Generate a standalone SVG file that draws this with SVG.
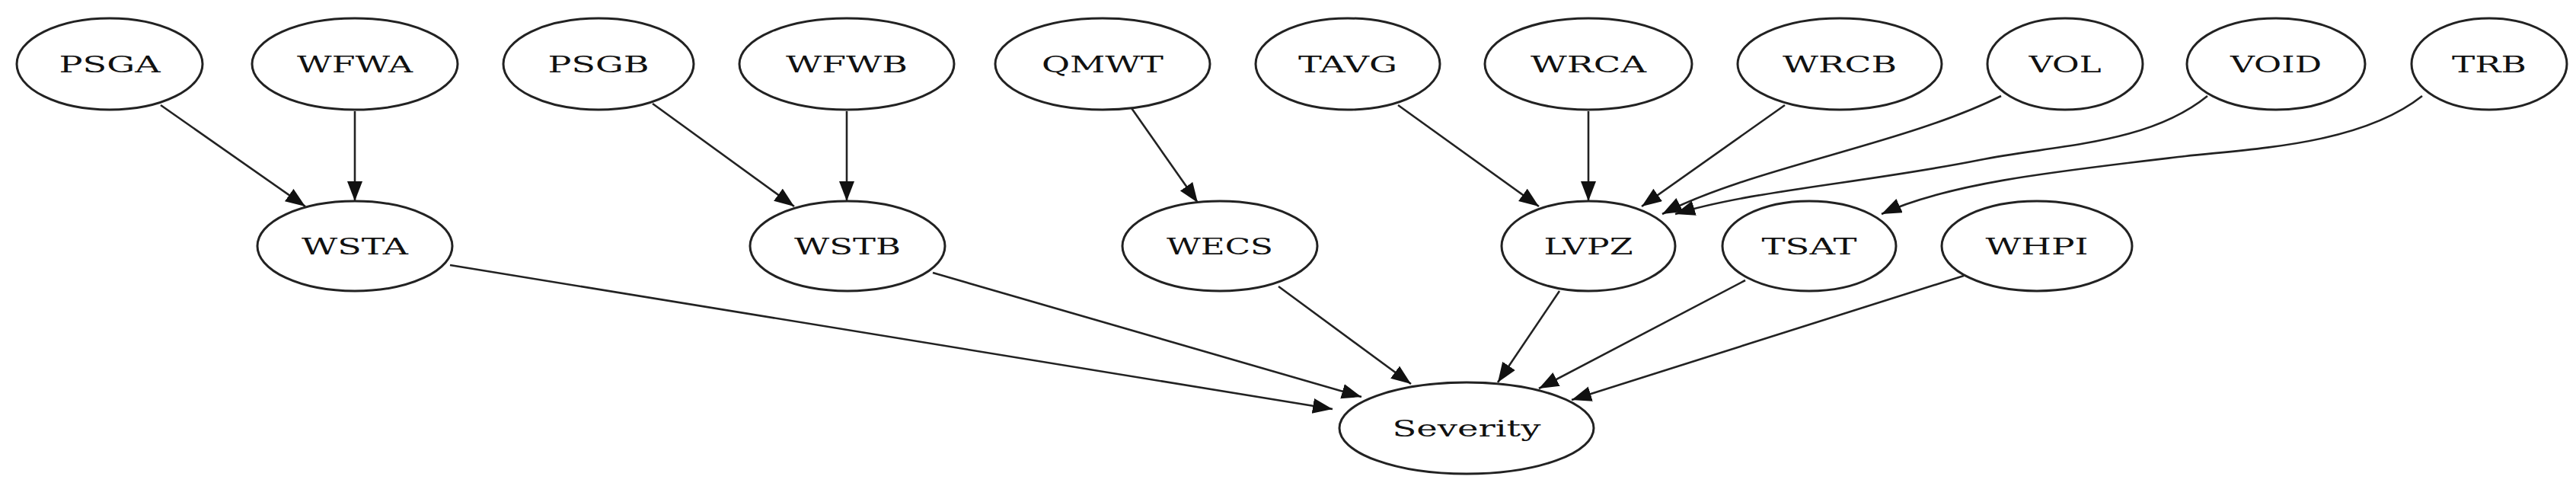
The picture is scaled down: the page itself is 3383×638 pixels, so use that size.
<svg xmlns="http://www.w3.org/2000/svg" width="3383" height="638" viewBox="0 0 3383 638">
<style>
ellipse{fill:#fff;stroke:#222;stroke-width:3}
text{font-family:"DejaVu Serif","Liberation Serif",serif;font-size:30px;fill:#111;text-anchor:middle;dominant-baseline:central}
.e path{fill:none;stroke:#222;stroke-width:2.6}
</style>
<defs><marker id="a" markerUnits="userSpaceOnUse" markerWidth="30" markerHeight="24" refX="26" refY="10" orient="auto"><path d="M0,0 L26,10 L0,20 z" fill="#111"/></marker></defs>
<g class="e">
<path d="M211,138 L401,271" marker-end="url(#a)"/>
<path d="M466,146 L466,264" marker-end="url(#a)"/>
<path d="M857,136 L1043,271" marker-end="url(#a)"/>
<path d="M1112,146 L1112,264" marker-end="url(#a)"/>
<path d="M1486,142 L1573,266" marker-end="url(#a)"/>
<path d="M1836,138 L2021,271" marker-end="url(#a)"/>
<path d="M2086,146 L2086,264" marker-end="url(#a)"/>
<path d="M2344,138 L2156,271" marker-end="url(#a)"/>
<path d="M2628,126 C2500,190 2300,220 2183,281" marker-end="url(#a)"/>
<path d="M2899,126 C2820,190 2700,190 2600,210 C2450,240 2300,250 2200,281" marker-end="url(#a)"/>
<path d="M3181,126 C3100,190 2960,195 2870,205 C2700,225 2560,240 2471,281" marker-end="url(#a)"/>
<path d="M591,348 L1750,537" marker-end="url(#a)"/>
<path d="M1225,358 L1788,521" marker-end="url(#a)"/>
<path d="M1679,376 L1853,504" marker-end="url(#a)"/>
<path d="M2048,382 L1967,502" marker-end="url(#a)"/>
<path d="M2292,368 L2021,510" marker-end="url(#a)"/>
<path d="M2579,362 L2064,525" marker-end="url(#a)"/>
</g>
<g id="PSGA"><ellipse cx="144" cy="84" rx="122" ry="60"/><text x="144" y="84" textLength="133" lengthAdjust="spacingAndGlyphs">PSGA</text></g>
<g id="WFWA"><ellipse cx="466" cy="84" rx="135" ry="60"/><text x="466" y="84" textLength="152" lengthAdjust="spacingAndGlyphs">WFWA</text></g>
<g id="PSGB"><ellipse cx="786" cy="84" rx="125" ry="60"/><text x="786" y="84" textLength="133" lengthAdjust="spacingAndGlyphs">PSGB</text></g>
<g id="WFWB"><ellipse cx="1112" cy="84" rx="141" ry="60"/><text x="1112" y="84" textLength="160" lengthAdjust="spacingAndGlyphs">WFWB</text></g>
<g id="QMWT"><ellipse cx="1448" cy="84" rx="141" ry="60"/><text x="1448" y="84" textLength="160" lengthAdjust="spacingAndGlyphs">QMWT</text></g>
<g id="TAVG"><ellipse cx="1770" cy="84" rx="121" ry="60"/><text x="1770" y="84" textLength="130" lengthAdjust="spacingAndGlyphs">TAVG</text></g>
<g id="WRCA"><ellipse cx="2086" cy="84" rx="136" ry="60"/><text x="2086" y="84" textLength="152" lengthAdjust="spacingAndGlyphs">WRCA</text></g>
<g id="WRCB"><ellipse cx="2416" cy="84" rx="134" ry="60"/><text x="2416" y="84" textLength="150" lengthAdjust="spacingAndGlyphs">WRCB</text></g>
<g id="VOL"><ellipse cx="2712" cy="84" rx="102" ry="60"/><text x="2712" y="84" textLength="95" lengthAdjust="spacingAndGlyphs">VOL</text></g>
<g id="VOID"><ellipse cx="2989" cy="84" rx="117" ry="60"/><text x="2989" y="84" textLength="120" lengthAdjust="spacingAndGlyphs">VOID</text></g>
<g id="TRB"><ellipse cx="3269" cy="84" rx="102" ry="60"/><text x="3269" y="84" textLength="98" lengthAdjust="spacingAndGlyphs">TRB</text></g>
<g id="WSTA"><ellipse cx="466" cy="323" rx="128" ry="59"/><text x="466" y="323" textLength="140" lengthAdjust="spacingAndGlyphs">WSTA</text></g>
<g id="WSTB"><ellipse cx="1113" cy="323" rx="128" ry="59"/><text x="1113" y="323" textLength="140" lengthAdjust="spacingAndGlyphs">WSTB</text></g>
<g id="WECS"><ellipse cx="1602" cy="323" rx="128" ry="59"/><text x="1602" y="323" textLength="140" lengthAdjust="spacingAndGlyphs">WECS</text></g>
<g id="LVPZ"><ellipse cx="2086" cy="323" rx="114" ry="59"/><text x="2086" y="323" textLength="117" lengthAdjust="spacingAndGlyphs">LVPZ</text></g>
<g id="TSAT"><ellipse cx="2376" cy="323" rx="114" ry="59"/><text x="2376" y="323" textLength="125" lengthAdjust="spacingAndGlyphs">TSAT</text></g>
<g id="WHPI"><ellipse cx="2675" cy="323" rx="125" ry="59"/><text x="2675" y="323" textLength="135" lengthAdjust="spacingAndGlyphs">WHPI</text></g>
<g id="Severity"><ellipse cx="1926" cy="562" rx="167" ry="60"/><text x="1926" y="562" textLength="195" lengthAdjust="spacingAndGlyphs">Severity</text></g>
</svg>
